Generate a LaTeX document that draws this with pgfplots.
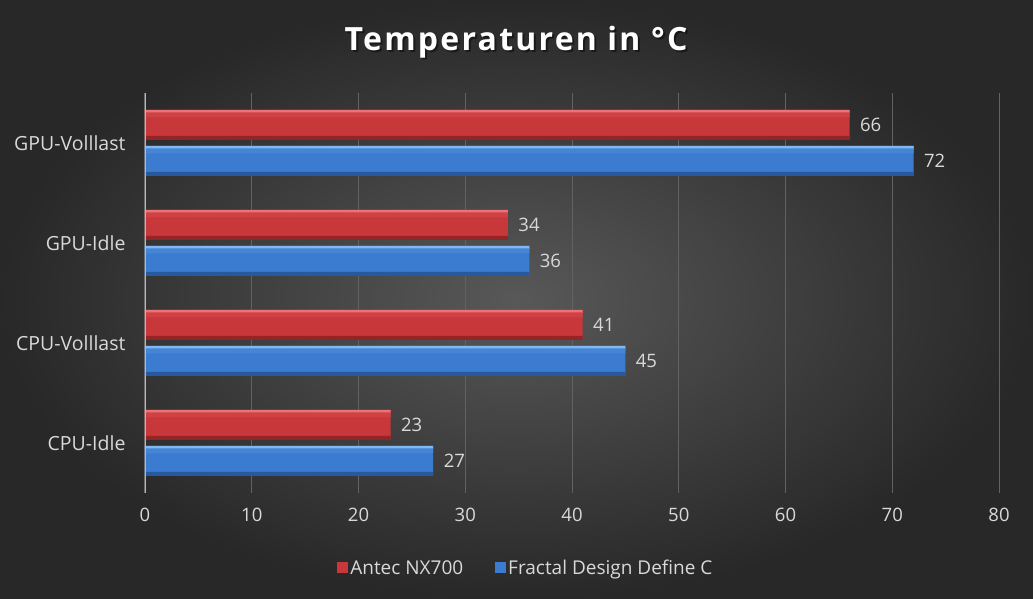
\documentclass[border=0pt]{standalone}
\usepackage{pgfplots}
\pgfplotsset{compat=1.18}
\usepackage{fontspec}
\setmainfont{Open Sans}

\definecolor{bgin}{HTML}{585858}
\definecolor{bgout}{HTML}{282828}
\definecolor{redmain}{HTML}{C8383B}
\definecolor{redtop}{HTML}{EE7275}
\definecolor{redbot}{HTML}{952426}
\definecolor{bluemain}{HTML}{3B7CD0}
\definecolor{bluetop}{HTML}{82B8F2}
\definecolor{bluebot}{HTML}{28599E}
\definecolor{txt}{HTML}{D9D9D9}
\definecolor{gridc}{HTML}{626262}

\pgfplotsset{
    strip/.style={draw=none, forget plot, bar width=#1, nodes near coords={}},
}

\begin{document}
\begin{tikzpicture}[x=1pt,y=1pt]
\shade[inner color=bgin, outer color=bgout] (0,0) rectangle (1033,599);
\useasboundingbox (0,0) rectangle (1033,599);
\begin{axis}[
    at={(145pt,106pt)}, anchor=south west,
    scale only axis, width=854pt, height=400pt,
    xmin=0, xmax=80, ymin=-0.5, ymax=3.5,
    xtick={0,10,...,80}, ytick={0,1,2,3},
    yticklabels={CPU-Idle,CPU-Volllast,GPU-Idle,GPU-Volllast},
    axis line style={draw=none},
    major tick length=0pt,
    xmajorgrids,
    grid style={gridc, line width=1pt},
    /pgf/number format/assume math mode=true,
    ticklabel style={font=\fontsize{18.5}{22}\selectfont, text=txt},
    yticklabel style={font=\fontsize{19.5}{23}\selectfont},
    xticklabel shift=12pt,
    yticklabel shift=16pt,
    xbar, bar width=0.3,
    legend style={at={(0.446,-0.1875)}, anchor=center, draw=none, fill=none,
        font=\fontsize{19}{23}\selectfont, text=txt,
        /tikz/every even column/.append style={column sep=30pt}},
    legend columns=2,
    legend image code/.code={\path[#1, draw=none] (0pt,-5pt) rectangle (11pt,6pt);},
]
% main bars
\addplot[draw=none, fill=redmain, bar shift=0.18,
    nodes near coords,
    every node near coord/.append style={font=\fontsize{18.5}{22}\selectfont, text=txt, xshift=7pt}]
    coordinates {(23,0) (41,1) (34,2) (66,3)};
\addlegendentry{Antec NX700}
\addplot[draw=none, fill=bluemain, bar shift=-0.18,
    nodes near coords,
    every node near coord/.append style={font=\fontsize{18.5}{22}\selectfont, text=txt, xshift=7pt}]
    coordinates {(27,0) (45,1) (36,2) (72,3)};
\addlegendentry{Fractal Design Define C}
% bevel highlights and shadows
\addplot[strip=0.035, fill=redtop, bar shift=0.3125]
    coordinates {(23,0) (41,1) (34,2) (66,3)};
\addplot[strip=0.05, fill=redmain!85!redtop, bar shift=0.28]
    coordinates {(23,0) (41,1) (34,2) (66,3)};
\addplot[strip=0.04, fill=redbot, bar shift=0.05]
    coordinates {(23,0) (41,1) (34,2) (66,3)};
\addplot[strip=0.035, fill=bluetop, bar shift=-0.0475]
    coordinates {(27,0) (45,1) (36,2) (72,3)};
\addplot[strip=0.05, fill=bluemain!85!bluetop, bar shift=-0.08]
    coordinates {(27,0) (45,1) (36,2) (72,3)};
\addplot[strip=0.04, fill=bluebot, bar shift=-0.31]
    coordinates {(27,0) (45,1) (36,2) (72,3)};
\draw[txt!85!black, line width=1.2pt] (axis cs:0,-0.5) -- (axis cs:0,3.5);
\end{axis}
\node[text=black, opacity=0.45, font=\fontsize{32}{38}\selectfont\bfseries] at (518,555) {\addfontfeatures{LetterSpace=7}Temperaturen in °C};
\node[text=white, font=\fontsize{32}{38}\selectfont\bfseries] at (516,557) {\addfontfeatures{LetterSpace=7}Temperaturen in °C};
\end{tikzpicture}
\end{document}
